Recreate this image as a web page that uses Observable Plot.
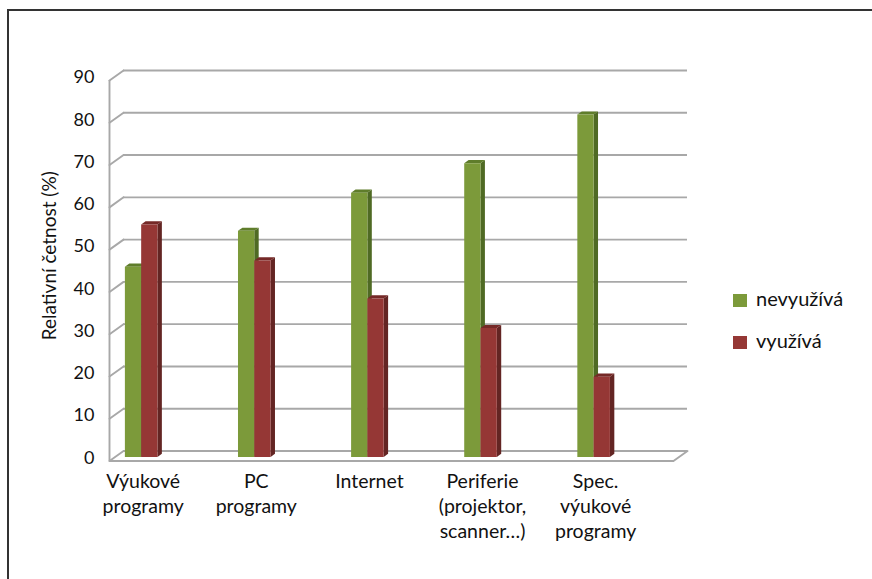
<!DOCTYPE html>
<html>
<head>
<meta charset="utf-8">
<script src="https://cdn.jsdelivr.net/npm/d3@7"></script>
<script src="https://cdn.jsdelivr.net/npm/@observablehq/plot@0.6"></script>
<style>
html,body{margin:0;padding:0;background:#fff}
#wrap{position:relative;width:872px;height:579px;overflow:hidden;font-family:Lato,sans-serif;color:#111}
#frame{position:absolute;left:7px;top:9px;right:-5px;bottom:-5px;border:2px solid #333}
#chart{position:absolute;left:0;top:0}
.lg{position:absolute;left:733px;font-size:20px;line-height:20px;height:20px}
.lg i{position:absolute;left:0;top:3px;width:14px;height:13px}
.lg span{position:absolute;left:23px;top:-3px;white-space:nowrap}
</style>
</head>
<body>
<div id="wrap">
<div id="frame"></div>
<div id="chart"></div>
<div class="lg" style="top:291px"><i style="background:#7c9a3a"></i><span>nevyužívá</span></div>
<div class="lg" style="top:333px"><i style="background:#953735"></i><span>využívá</span></div>
</div>
<script>
const categories = ["Výukové\nprogramy", "PC\nprogramy", "Internet", "Periferie\n(projektor,\nscanner…)", "Spec.\nvýukové\nprogramy"];
const nevyuziva = [45, 53.5, 62.5, 69.5, 81];
const vyuziva = [55, 46.5, 37.5, 30.5, 19];
const yTicks = [0, 10, 20, 30, 40, 50, 60, 70, 80, 90];

// chart-space depths of the pseudo-3D look
const xMin = -0.28, xMax = 4.83, yAxisShiftX = 0.124, yAxisShiftY = 2.37;
const barW = 0.144, barDX = 0.039, barDY = 0.75, barBase = 1.42;

const palette = {
  g: {front: "#7c9a3a", side: "#4f6a24", top: "#5f7d2b"},
  r: {front: "#953735", side: "#632523", top: "#752927"}
};

function barFaces(i, v, x0, c) {
  const x1 = x0 + barW, b = -barBase, t = v - barBase;
  return [
    {fill: c.side, pts: [[x1, b], [x1 + barDX, b + barDY], [x1 + barDX, t + barDY], [x1, t]]},
    {fill: c.top, pts: [[x0, t], [x1, t], [x1 + barDX, t + barDY], [x0 + barDX, t + barDY]]},
    {fill: c.front, pts: [[x0, b], [x1, b], [x1, t], [x0, t]]}
  ];
}
const faces = [];
categories.forEach((_, i) => {
  faces.push(...barFaces(i, nevyuziva[i], i - barW, palette.g));
  faces.push(...barFaces(i, vyuziva[i], i, palette.r));
});
const polyRows = faces.flatMap((f, k) => f.pts.map(p => ({k, fill: f.fill, x: p[0], y: p[1]})));

const wallRows = yTicks.flatMap(t => [
  {t, x: xMin, y: t - yAxisShiftY},
  {t, x: xMin + yAxisShiftX, y: t}
]);
const floorRows = [
  {x: xMin, y: -yAxisShiftY},
  {x: xMax - yAxisShiftX, y: -yAxisShiftY},
  {x: xMax, y: 0}
];
const gridStroke = "#a8a8a8";

const plot = Plot.plot({
  width: 872, height: 579,
  marginLeft: 109, marginRight: 185, marginTop: 70, marginBottom: 128.5,
  style: {background: "transparent", fontFamily: "Lato,sans-serif", color: "#111"},
  x: {type: "linear", domain: [xMin, xMax]},
  y: {type: "linear", domain: [0, 90]},
  marks: [
    Plot.ruleY(yTicks, {x1: xMin + yAxisShiftX, x2: xMax, stroke: gridStroke, strokeWidth: 1.9}),
    Plot.line(wallRows, {x: "x", y: "y", z: "t", stroke: gridStroke, strokeWidth: 1.9}),
    Plot.ruleX([xMin], {y1: -yAxisShiftY, y2: 90 - yAxisShiftY, stroke: gridStroke, strokeWidth: 1.9}),
    Plot.line(floorRows, {x: "x", y: "y", stroke: gridStroke, strokeWidth: 1.9}),
    Plot.line(polyRows, {x: "x", y: "y", z: "k", fill: "fill", stroke: "none", curve: "linear-closed"}),
    Plot.axisY({ticks: yTicks, tickSize: 0, tickPadding: 15, fontSize: 18, dy: 7, label: null}),
    Plot.axisX({ticks: [0, 1, 2, 3, 4], tickFormat: i => categories[i], tickSize: 0, tickPadding: 20,
      fontSize: 19.5, lineHeight: 1.26, dx: 2, label: null}),
    Plot.text(["Relativní četnost (%)"], {frameAnchor: "left", textAnchor: "middle", rotate: -90, dx: -60, dy: -5, fontSize: 19, fill: "#111"})
  ]
});
document.getElementById("chart").appendChild(plot);
</script>
</body>
</html>
